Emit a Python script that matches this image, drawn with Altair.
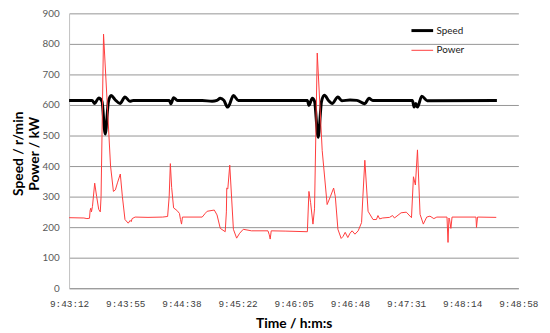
import altair as alt
import pandas as pd

# ---- data (seconds after 9:43:12, value) ----
speed_t = [0, 17.7, 19.7, 22.8, 25.3, 27.8, 30.3, 32.4, 35.4, 39.2, 43.0, 46.8, 49.3,
           77.1, 78.3, 80.4, 83.4, 102.4, 110.0, 113.8, 116.3, 119.1, 121.9, 123.2,
           126.4, 130.2, 183.3, 184.5, 187.1, 188.8, 191.6, 194.2, 196.4, 199.7, 202.3,
           206.8, 209.8, 216.1, 221.4, 227.5, 230.6, 233.6, 264.1, 265.4, 266.7, 268.0,
           271.3, 275.5, 329.1]
speed_v = [615, 615, 605, 623, 612, 505, 612, 631, 617, 605, 626, 612, 615,
           615, 604, 624, 615, 615, 612, 615, 622, 615, 593, 600,
           631, 615, 615, 599, 622, 612, 494, 612, 632, 614, 605,
           626, 614, 616, 615, 604, 622, 615, 615, 593, 605, 593,
           629, 614, 615]

power_t = [0, 11.4, 13.7, 15.7, 16.2, 16.7, 17.2, 18.0, 19.7, 21.2, 22.8, 24.0, 24.6,
           26.5, 31.9, 34.1, 35.6, 37.2, 39.4, 41.0, 43.0, 45.5, 47.0, 47.8, 48.5,
           50.8, 60.7, 72.0, 75.8, 77.0, 77.9, 78.9, 80.4, 82.9, 84.9, 85.7, 86.5,
           87.2, 102.4, 104.7, 106.2, 111.7, 113.8, 116.3, 120.1, 121.0, 121.3, 122.1,
           123.6, 126.4, 128.9, 131.2, 134.0, 140.3, 153.0, 154.0, 154.7, 155.5, 166.8,
           183.3, 184.5, 185.8, 187.6, 188.8, 190.9, 194.7, 198.5, 201.0, 203.5, 204.8,
           206.8, 209.3, 210.8, 212.4, 214.4, 216.1, 217.7, 219.9, 222.4, 225.0, 226.0,
           227.5, 230.0, 233.8, 236.4, 237.6, 238.9, 241.2, 246.5, 248.8, 250.3, 255.4,
           259.4, 263.4, 264.9, 266.4, 268.0, 270.0, 272.5, 275.1, 277.6, 280.6, 282.9,
           290.7, 291.5, 292.2, 292.7, 293.7, 294.6, 313.0, 313.4, 314.2, 328.6]
power_v = [231, 230, 228, 229, 255, 262, 250, 268, 344, 300, 258, 250, 300,
           832, 400, 317, 322, 345, 374, 300, 225, 213, 222, 218, 228,
           233, 232, 233, 235, 300, 408, 330, 263, 255, 245, 225, 210,
           233, 233, 245, 252, 256, 240, 196, 185, 250, 328, 325,
           403, 193, 164, 180, 193, 188, 188, 175, 161, 188, 187,
           185, 317, 280, 210, 260, 770, 451, 274, 300, 328, 300,
           193, 163, 170, 183, 166, 180, 188, 177, 188, 215, 300,
           419, 252, 225, 225, 238, 227, 230, 232, 238, 230, 247,
           249, 231, 365, 338, 453, 242, 210, 233, 236, 228, 233,
           233, 150, 230, 225, 196, 233, 233, 199, 233, 232]

series_names = ["Speed", "Power"]
series_colors = ["#000000", "#ff3b3b"]
series_widths = [3, 1]

x_tick_values = [0, 43.2, 86.4, 129.6, 172.8, 216.0, 259.2, 302.4, 345.6]
x_tick_labels = ["9:43:12", "9:43:55", "9:44:38", "9:45:22", "9:46:05",
                 "9:46:48", "9:47:31", "9:48:14", "9:48:58"]
y_tick_values = [0, 100, 200, 300, 400, 500, 600, 700, 800, 900]

df_speed = pd.DataFrame({"t": speed_t, "v": speed_v, "series": "Speed"})
df_power = pd.DataFrame({"t": power_t, "v": power_v, "series": "Power"})

label_arr = "[" + ",".join("'" + s + "'" for s in x_tick_labels) + "]"

x_enc = alt.X("t:Q",
              scale=alt.Scale(domain=[0, 345.6], nice=False, zero=False),
              axis=alt.Axis(values=x_tick_values,
                            labelExpr=label_arr + "[round(datum.value/43.2)]",
                            labelOverlap=False, labelFlush=False,
                            title="Time / h:m:s",
                            titleFont="Lato", titleFontSize=14, titleFontWeight="bold",
                            titleColor="#000000",
                            titleX=228, titleY=36, titleBaseline="middle",
                            titleAlign="center",
                            labelFont="Liberation Mono", labelFontSize=9.5,
                            labelColor="#404040", labelPadding=11,
                            ticks=False, grid=False,
                            domainColor="#999999", domainWidth=1))
y_enc = alt.Y("v:Q",
              scale=alt.Scale(domain=[0, 900], nice=False),
              axis=alt.Axis(values=y_tick_values,
                            title=["Speed / r/min", "Power / kW"],
                            titleFont="Lato", titleFontSize=14, titleFontWeight="bold",
                            titleColor="#000000", titleAngle=270,
                            titleX=-51, titleY=142, titleBaseline="middle",
                            titleAlign="center", titleLineHeight=16,
                            labelFont="Lato", labelFontSize=10,
                            labelColor="#595959", labelPadding=10,
                            ticks=False, grid=True, gridColor="#949494",
                            gridWidth=1, domainColor="#c0c0c0", domainWidth=1))

legend_cfg = dict(title=None, orient="none", legendX=346, legendY=5,
                  symbolType="stroke", symbolSize=484,
                  labelFont="Lato", labelFontSize=10,
                  labelColor="#202020", labelOffset=2, rowPadding=2)

color_enc = alt.Color("series:N",
                      scale=alt.Scale(domain=series_names, range=series_colors),
                      legend=alt.Legend(**legend_cfg))
sw_enc = alt.StrokeWidth("series:N",
                         scale=alt.Scale(domain=series_names, range=series_widths),
                         legend=alt.Legend(**legend_cfg))

speed_layer = alt.Chart(df_speed).mark_line(interpolate="monotone").encode(
    x=x_enc, y=y_enc, color=color_enc, strokeWidth=sw_enc)
power_layer = alt.Chart(df_power).mark_line().encode(
    x=x_enc, y=y_enc, color=color_enc, strokeWidth=sw_enc)

chart = alt.layer(speed_layer, power_layer).properties(
    width=456, height=279,
    autosize=alt.AutoSizeParams(type="none"),
    padding={"left": 62, "top": 3, "right": 24, "bottom": 43},
    background="white",
).configure_view(stroke=None)

chart.save("out.html", embed_options={"renderer": "svg", "actions": False})
